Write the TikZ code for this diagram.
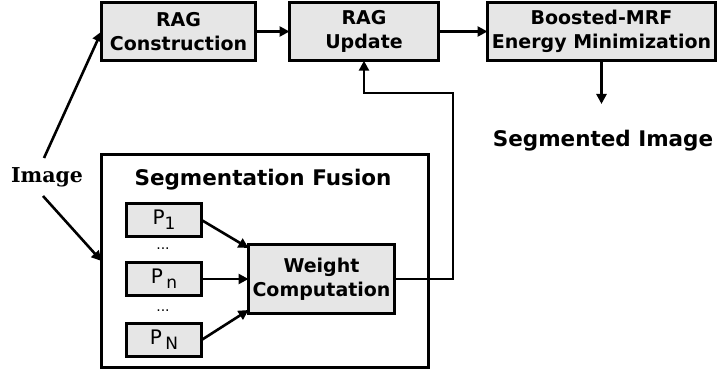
\documentclass[tikz,border=0pt]{standalone}
\usepackage{fontspec}
\setmainfont{DejaVu Sans}
\newfontfamily\serifbold{DejaVu Serif}
\usetikzlibrary{arrows.meta}

\definecolor{boxgray}{HTML}{E6E6E6}

\begin{document}
\begin{tikzpicture}[x=1pt,y=-1pt,
  every node/.style={inner sep=0pt, outer sep=0pt},
  stage/.style={draw=black, line width=3pt, fill=boxgray, align=center,
    font=\fontsize{19}{24}\selectfont\bfseries},
  pbox/.style={draw=black, line width=3pt, fill=boxgray,
    minimum width=75pt, minimum height=33pt,
    font=\fontsize{20}{22}\selectfont},
  frame/.style={draw=black, line width=3pt},
  title/.style={font=\fontsize{21.5}{25}\selectfont\bfseries},
  flow/.style={line width=2.6pt, -{Triangle[length=10pt,width=10pt]}},
  dots/.style={font=\fontsize{14}{14}\selectfont}
]
\useasboundingbox (0,0) rectangle (718,377);

% top pipeline
\node[stage, minimum width=154pt, minimum height=58.5pt] (ragc) at (178.5,31.5) {RAG\\Construction};
\node[stage, minimum width=149pt, minimum height=58.5pt] (ragu) at (364,31.5) {RAG\\Update};
\node[stage, minimum width=228pt, minimum height=58.5pt] (mrf) at (601.5,31.5) {Boosted-MRF\\Energy Minimization};
\node[title] (out) at (603,141) {Segmented Image};
\coordinate (outtop) at (601.5,104);

% input
\node[font=\fontsize{20.5}{22}\selectfont\serifbold\bfseries] (img) at (47,177) {Image};
\coordinate (imgT) at (44,158);
\coordinate (imgB) at (43,196);

% segmentation fusion block
\node[frame, minimum width=327pt, minimum height=213pt] (fusion) at (265,261) {};
\node[title] (ftitle) at (263,180) {Segmentation Fusion};
\node[pbox] (p1) at (164,220) {P\raisebox{-5pt}{\fontsize{17}{17}\selectfont 1}};
\node[pbox] (pn) at (164,279) {P\,\raisebox{-5pt}{\fontsize{17}{17}\selectfont n}};
\node[pbox] (pN) at (164,340) {P\,\raisebox{-5pt}{\fontsize{17}{17}\selectfont N}};
\node[dots] (d1) at (163,249) {...};
\node[dots] (d2) at (163,311) {...};
\node[stage, minimum width=146pt, minimum height=69pt] (w) at (321.5,279) {Weight\\Computation};
\coordinate (fbA) at (453,93);

% connectors
\draw[flow] (ragc) -- (ragu);
\draw[flow] (ragu) -- (mrf);
\draw[flow] (mrf.south) -- (outtop);
\draw[flow] (imgT) -- (ragc.west);
\draw[flow] (imgB) -- (fusion.west);
\draw[flow] (p1.east) -- ([yshift=31pt]w.west);
\draw[flow] (pn.east) -- (w.west);
\draw[flow] (pN.east) -- ([yshift=-31pt]w.west);
\draw[flow] (w.east) -| (fbA) -| (ragu.south);
\end{tikzpicture}
\end{document}
